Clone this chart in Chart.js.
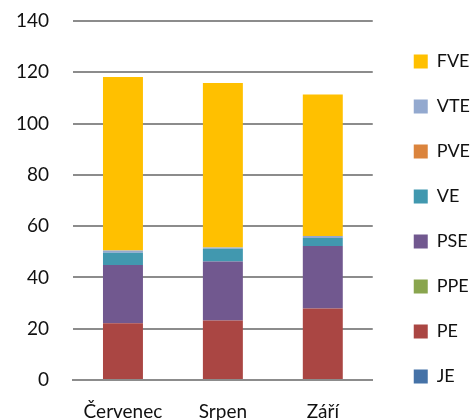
<!DOCTYPE html>
<html>
<head>
<meta charset="utf-8">
<script src="https://cdn.jsdelivr.net/npm/chart.js@4"></script>
<style>
  html, body { margin: 0; padding: 0; background: #fff; overflow: hidden; }
</style>
</head>
<body>
<canvas id="myChart" width="470" height="420"></canvas>
<script>
const months = ['Červenec', 'Srpen', 'Září']

// bottom to top in the stack
const JE = [0, 0, 0]
const PE = [22.1, 23.2, 27.9]
const PPE = [0, 0, 0]
const PSE = [22.7, 23.0, 24.4]
const VE = [4.8, 5.0, 3.1]
const PVE = [0, 0, 0]
const VTE = [0.9, 0.5, 0.8]
const FVE = [67.7, 64.1, 55.1]

const yTicks = [0, 20, 40, 60, 80, 100, 120, 140]

// nudge the legend block so boxes line up with the picture
const legendShift = {
  id: 'legendShift',
  afterUpdate (chart) {
    chart.legend.left += 14
    chart.legend.right += 14
    chart.legend.top += 9
    chart.legend.bottom += 9
  }
}

var ctx = document.getElementById('myChart').getContext('2d')
var myChart = new Chart(ctx, {
  type: 'bar',
  data: {
    labels: months,
    datasets: [
      { label: 'JE', data: JE, backgroundColor: '#4572A7' },
      { label: 'PE', data: PE, backgroundColor: '#AA4643' },
      { label: 'PPE', data: PPE, backgroundColor: '#89A54E' },
      { label: 'PSE', data: PSE, backgroundColor: '#71588F' },
      { label: 'VE', data: VE, backgroundColor: '#4198AF' },
      { label: 'PVE', data: PVE, backgroundColor: '#DB843D' },
      { label: 'VTE', data: VTE, backgroundColor: '#93A9CF' },
      { label: 'FVE', data: FVE, backgroundColor: '#FFC000' }
    ]
  },
  options: {
    responsive: false,
    animation: false,
    layout: { padding: { top: 0, left: 0, right: 4, bottom: 0 } },
    datasets: {
      bar: { barPercentage: 0.4, categoryPercentage: 1 }
    },
    scales: {
      x: {
        stacked: true,
        afterFit (axis) { axis.height = 40 },
        grid: { display: false, drawTicks: false },
        border: { color: '#8c8c8c', width: 2 },
        ticks: { padding: 20, color: '#111', font: { family: 'Lato', size: 19 } }
      },
      y: {
        stacked: true,
        min: 0,
        max: 140,
        afterBuildTicks (axis) { axis.ticks = yTicks.map(v => ({ value: v })) },
        afterFit (axis) {
          axis.width = 73
          axis.paddingTop = 21
          axis.paddingBottom = 0
        },
        grid: { color: '#8c8c8c', lineWidth: 2, drawTicks: false },
        border: { display: false },
        ticks: { padding: 24, color: '#111', font: { family: 'Lato', size: 19 } }
      }
    },
    plugins: {
      legend: {
        position: 'right',
        reverse: true,
        labels: {
          boxWidth: 14,
          boxHeight: 14,
          padding: 27,
          color: '#111',
          font: { family: 'Lato', size: 18 }
        }
      },
      tooltip: { enabled: false }
    }
  },
  plugins: [legendShift]
})
</script>
</body>
</html>
